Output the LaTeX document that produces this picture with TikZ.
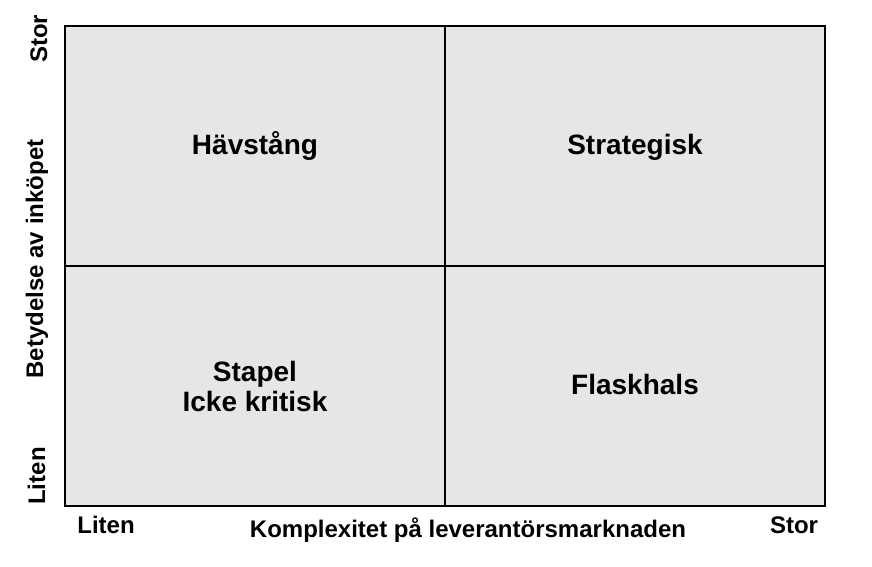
\documentclass[tikz,border=0pt]{standalone}
\usepackage{fontspec}
\setmainfont{Liberation Sans}
\usepackage{tikz}
\usetikzlibrary{positioning}
\definecolor{quadgray}{HTML}{E6E6E6}

\begin{document}
\begin{tikzpicture}[x=1pt,y=-1pt,
  quad/.style={draw,fill=quadgray,line width=1.3pt,minimum width=380pt,
    minimum height=240pt,inner sep=0pt,align=center,
    font=\fontsize{28}{30}\selectfont\bfseries},
  oneline/.style={text height=23pt,text depth=6pt},
  axis/.style={font=\fontsize{24}{28}\selectfont\bfseries,inner sep=0pt,
    text height=23pt,text depth=5pt}]

  \useasboundingbox (0,0) rectangle (872,567);

  \node[quad,oneline] (hav) at (255,146) {Hävstång};
  \node[quad,oneline] (strat) at (635,146) {Strategisk};
  \node[quad] (stapel) at (255,386) {Stapel\\Icke kritisk};
  \node[quad,oneline] (flask) at (635,386) {Flaskhals};

  \node[axis] (xlow) at (106,524) {Liten};
  \node[axis] (xlab) at (468,528) {Komplexitet på leverantörsmarknaden};
  \node[axis] (xhigh) at (794,524) {Stor};

  \node[axis,rotate=90] (yhigh) at (38,39) {Stor};
  \node[axis,rotate=90] (ylab) at (34,259) {Betydelse av inköpet};
  \node[axis,rotate=90] (ylow) at (36,476) {Liten};
\end{tikzpicture}
\end{document}
